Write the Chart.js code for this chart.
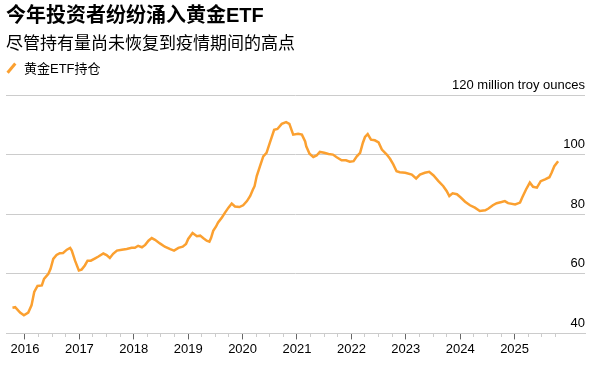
<!DOCTYPE html>
<html>
<head>
<meta charset="utf-8">
<script src="https://cdn.jsdelivr.net/npm/chart.js@4"></script>
<style>
  html, body { margin: 0; padding: 0; background: #fff; }
  body { width: 606px; height: 367px; position: relative; overflow: hidden;
         font-family: "Liberation Sans", Arial, "Noto Sans CJK SC", sans-serif; color: #000; }
  #title { position: absolute; left: 6px; top: 3px; font-size: 20px; font-weight: bold; line-height: 24px; white-space: nowrap; }
  #subtitle { position: absolute; left: 6px; top: 33px; font-size: 17px; line-height: 22px; white-space: nowrap; }
  #legend { position: absolute; left: 6px; top: 60px; font-size: 13px; line-height: 18px; white-space: nowrap; }
  #legend .swatch { display: inline-block; position: relative; width: 10px; height: 12px; margin-right: 8px; vertical-align: -1px; }
  #legend .swatch::after { content: ""; position: absolute; left: 4px; top: 0; width: 2.5px; height: 12px;
                           background: #fba030; transform: rotate(40deg); }
  #wrap { position: absolute; left: 0; top: 0; width: 606px; height: 367px; }
</style>
</head>
<body>
<div id="wrap"><canvas id="chart"></canvas></div>
<div id="title">今年投资者纷纷涌入黄金ETF</div>
<div id="subtitle">尽管持有量尚未恢复到疫情期间的高点</div>
<div id="legend"><span class="swatch"></span>黄金ETF持仓</div>
<script>
// 黄金ETF持仓（百万盎司），x は小数の年
const SERIES_LABEL = '黄金ETF持仓';
const UNIT_LABEL = 'million troy ounces';

const years = [
    2015.77, 2015.82, 2015.91, 2015.98, 2016.06, 2016.12, 2016.17, 2016.23, 2016.31, 2016.35,
    2016.43, 2016.47, 2016.52, 2016.58, 2016.64, 2016.70, 2016.77, 2016.83, 2016.86, 2016.92,
    2016.99, 2017.04, 2017.10, 2017.15, 2017.21, 2017.29, 2017.35, 2017.44, 2017.50, 2017.56,
    2017.62, 2017.69, 2017.78, 2017.87, 2017.96, 2018.02, 2018.08, 2018.15, 2018.21, 2018.27,
    2018.33, 2018.39, 2018.48, 2018.57, 2018.67, 2018.74, 2018.82, 2018.90, 2018.96, 2019.00,
    2019.08, 2019.16, 2019.22, 2019.28, 2019.34, 2019.39, 2019.42, 2019.46, 2019.51, 2019.55,
    2019.62, 2019.68, 2019.74, 2019.80, 2019.86, 2019.94, 2020.01, 2020.08, 2020.14, 2020.19,
    2020.22, 2020.26, 2020.32, 2020.38, 2020.44, 2020.50, 2020.58, 2020.64, 2020.72, 2020.80,
    2020.86, 2020.93, 2021.02, 2021.09, 2021.15, 2021.17, 2021.23, 2021.30, 2021.36, 2021.42,
    2021.50, 2021.58, 2021.66, 2021.73, 2021.82, 2021.90, 2021.97, 2022.04, 2022.10, 2022.16,
    2022.21, 2022.25, 2022.30, 2022.36, 2022.43, 2022.50, 2022.56, 2022.65, 2022.71, 2022.77,
    2022.83, 2022.89, 2022.99, 2023.11, 2023.19, 2023.26, 2023.35, 2023.43, 2023.51, 2023.60,
    2023.69, 2023.75, 2023.80, 2023.86, 2023.94, 2024.01, 2024.09, 2024.18, 2024.27, 2024.36,
    2024.46, 2024.52, 2024.60, 2024.67, 2024.76, 2024.82, 2024.88, 2025.01, 2025.10, 2025.14,
    2025.21, 2025.28, 2025.34, 2025.41, 2025.48, 2025.56, 2025.64, 2025.68, 2025.73, 2025.80,
];

const holdings = [
    48.6, 48.8, 47.0, 46.1, 47.0, 49.4, 53.9, 55.9, 56.1, 58.3,
    60.0, 61.7, 65.0, 66.3, 66.9, 67.0, 68.1, 68.7, 67.8, 64.4,
    61.1, 61.4, 62.8, 64.4, 64.4, 65.2, 65.8, 66.8, 66.3, 65.3,
    66.7, 67.8, 68.1, 68.3, 68.7, 68.7, 69.4, 68.9, 69.7, 71.1,
    72.0, 71.4, 70.2, 69.1, 68.3, 67.8, 68.7, 69.1, 70.0, 71.7,
    73.7, 72.6, 72.8, 71.9, 71.1, 70.8, 72.0, 74.4, 75.8, 77.2,
    78.9, 80.6, 82.2, 83.6, 82.6, 82.4, 83.0, 84.4, 86.1, 88.3,
    89.4, 92.8, 96.1, 99.4, 100.6, 103.9, 108.3, 108.6, 110.3, 110.9,
    110.3, 106.7, 107.0, 106.7, 104.4, 102.8, 100.3, 99.2, 99.7, 100.9,
    100.6, 100.2, 100.0, 99.1, 98.1, 98.1, 97.6, 97.8, 99.4, 100.6,
    103.9, 105.9, 106.9, 105.0, 104.8, 104.1, 101.7, 100.0, 98.6, 96.7,
    94.4, 94.1, 93.9, 93.3, 92.0, 93.3, 93.9, 94.2, 93.0, 91.1,
    89.4, 87.8, 86.1, 87.0, 86.7, 85.6, 84.2, 83.0, 82.2, 81.1,
    81.3, 81.9, 83.0, 83.7, 84.1, 84.4, 83.7, 83.3, 83.9, 85.6,
    88.3, 90.6, 89.2, 88.9, 91.1, 91.7, 92.4, 93.9, 96.1, 97.8,
];

const Y_TICKS = [40, 60, 80, 100, 120];
const X_MIN = 2015.651;
const X_MAX = 2026.294;
const FIRST_YEAR = 2016;
const LAST_TICK = 2025.75;

const LINE_COLOR = '#fba030';
const GRID_COLOR = '#cccccc';
const FONT = '"Liberation Sans", Arial, sans-serif';

const isYear = v => Math.abs(v - Math.round(v)) < 1e-6;

window.onload = function () {
    new Chart(document.getElementById('chart'), {
        type: 'line',
        data: {
            datasets: [{
                label: SERIES_LABEL,
                data: years.map((x, i) => ({ x, y: holdings[i] })),
                borderColor: LINE_COLOR,
                backgroundColor: LINE_COLOR,
                borderWidth: 2.5,
                pointRadius: 0,
                tension: 0,
            }],
        },
        options: {
            responsive: true,
            maintainAspectRatio: false,
            animation: false,
            layout: { padding: { left: 6, right: 21, top: 95, bottom: 8 } },
            plugins: { legend: { display: false }, title: { display: false }, tooltip: { enabled: false } },
            scales: {
                x: {
                    type: 'linear',
                    min: X_MIN,
                    max: X_MAX,
                    afterBuildTicks: scale => {
                        scale.ticks = scale.ticks.filter(t => t.value >= FIRST_YEAR - 1e-6 && t.value <= LAST_TICK + 1e-6);
                    },
                    ticks: {
                        stepSize: 0.25,
                        includeBounds: false,
                        autoSkip: false,
                        maxRotation: 0,
                        padding: 2,
                        color: '#000',
                        font: { family: FONT, size: 13 },
                        callback: v => isYear(v) ? String(Math.round(v)) : '',
                    },
                    grid: {
                        drawOnChartArea: false,
                        drawTicks: true,
                        tickLength: 6,
                        tickWidth: 1,
                        tickColor: ctx => isYear(ctx.tick.value) ? '#666' : GRID_COLOR,
                        tickBorderDash: ctx => isYear(ctx.tick.value) ? [] : [3, 100],
                    },
                    border: { display: true, color: GRID_COLOR, width: 1 },
                },
                y: {
                    position: 'right',
                    min: Y_TICKS[0],
                    max: Y_TICKS[Y_TICKS.length - 1],
                    afterBuildTicks: scale => { scale.ticks = Y_TICKS.map(value => ({ value })); },
                    ticks: {
                        mirror: true,
                        padding: 0,
                        labelOffset: -10,
                        color: '#000',
                        font: { family: FONT, size: 13 },
                        callback: v => v === Y_TICKS[Y_TICKS.length - 1] ? `${v} ${UNIT_LABEL}` : String(v),
                    },
                    grid: { color: GRID_COLOR, lineWidth: 1, drawTicks: false },
                    border: { display: false },
                },
            },
        },
    });
};
</script>
</body>
</html>
